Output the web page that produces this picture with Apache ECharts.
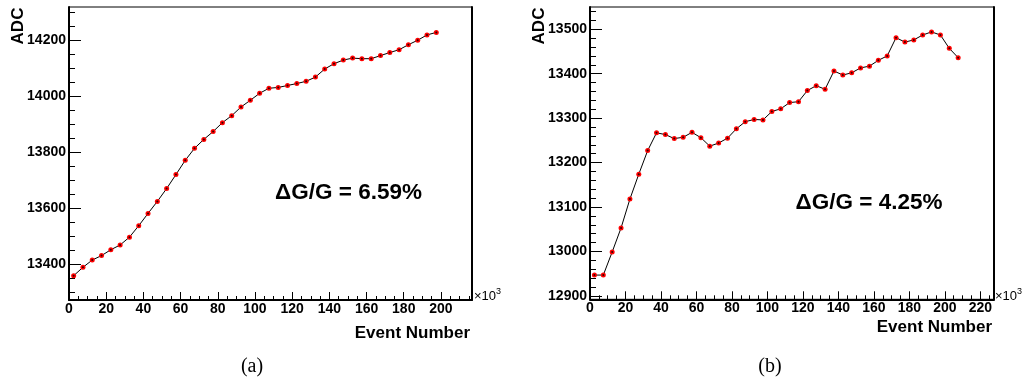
<!DOCTYPE html>
<html>
<head>
<meta charset="utf-8">
<script src="https://cdn.jsdelivr.net/npm/echarts@6/dist/echarts.min.js"></script>
<style>
html,body{margin:0;padding:0;background:#fff;}
#c{width:1024px;height:385px;}
</style>
</head>
<body>
<div id="c"></div>
<script>
// ---- Data (panel a) ----
const eventsA = [2.5,7.5,12.5,17.5,22.5,27.5,32.5,37.5,42.5,47.5,52.5,57.5,62.5,67.5,72.5,77.5,82.5,87.5,92.5,97.5,
  102.5,107.5,112.5,117.5,122.5,127.5,132.5,137.5,142.5,147.5,152.5,157.5,162.5,167.5,172.5,177.5,182.5,187.5,192.5,197.5];
const adcA = [13358,13388,13414,13430,13451,13468,13496,13537,13581,13624,13670,13720,13771,13814,13846,13874,13906,13931,13962,13986,
  14011,14029,14032,14039,14046,14054,14069,14098,14117,14130,14137,14135,14135,14146,14157,14167,14185,14201,14220,14229];
// ---- Data (panel b) ----
const eventsB = [2.5,7.5,12.5,17.5,22.5,27.5,32.5,37.5,42.5,47.5,52.5,57.5,62.5,67.5,72.5,77.5,82.5,87.5,92.5,97.5,
  102.5,107.5,112.5,117.5,122.5,127.5,132.5,137.5,142.5,147.5,152.5,157.5,162.5,167.5,172.5,177.5,182.5,187.5,192.5,197.5,202.5,207.5];
const adcB = [12947,12947,12999,13053,13118,13174,13227,13267,13263,13254,13257,13268,13256,13237,13244,13255,13276,13292,13297,13296,
  13315,13321,13335,13337,13362,13373,13365,13406,13397,13402,13413,13417,13430,13440,13481,13471,13476,13487,13494,13487,13457,13436];
// ---- Tick labels ----
const xTicksA = [0,20,40,60,80,100,120,140,160,180,200];
const yTicksA = [13400,13600,13800,14000,14200];
const xTicksB = [0,20,40,60,80,100,120,140,160,180,200,220];
const yTicksB = [12900,13000,13100,13200,13300,13400,13500];
const labelA = '\u0394G/G = 6.59%';
const labelB = '\u0394G/G = 4.25%';

function minorTicks(lo, hi, step){ const r=[]; for(let v=lo; v<=hi+1e-9; v+=step) r.push(+v.toFixed(6)); return r; }

const FONT = 'Liberation Sans, Arial, sans-serif';
const ranges = {
  a: {xmin:0, xmax:216.7, ymin:13271, ymax:14320},
  b: {xmin:0, xmax:227.7, ymin:12892.5, ymax:13550}
};

function axesFor(gi, r, xT, yT, xMinorStep, yMinorStep){
  const lbl = {color:'#000', fontFamily:FONT, fontWeight:'bold', fontSize:14, formatter: v => String(v)};
  const xs = [
    {gridIndex:gi, type:'value', position:'bottom', min:r.xmin, max:r.xmax,
     axisLine:{show:true, lineStyle:{color:'#000', width:2}},
     axisTick:{show:true, inside:true, length:8, customValues:xT, lineStyle:{color:'#000', width:1}},
     axisLabel:{show:true, customValues:xT, margin:2, ...lbl},
     splitLine:{show:false}},
    {gridIndex:gi, type:'value', position:'bottom', min:r.xmin, max:r.xmax,
     axisLine:{show:false},
     axisTick:{show:true, inside:true, length:4, customValues:minorTicks(r.xmin, r.xmax, xMinorStep), lineStyle:{color:'#000', width:1}},
     axisLabel:{show:false}, splitLine:{show:false}}
  ];
  const ys = [
    {gridIndex:gi, type:'value', position:'left', min:r.ymin, max:r.ymax,
     axisLine:{show:true, lineStyle:{color:'#000', width:2}},
     axisTick:{show:true, inside:true, length:12, customValues:yT, lineStyle:{color:'#000', width:1}},
     axisLabel:{show:true, customValues:yT, margin:3, ...lbl},
     splitLine:{show:false}},
    {gridIndex:gi, type:'value', position:'left', min:r.ymin, max:r.ymax,
     axisLine:{show:false},
     axisTick:{show:true, inside:true, length:6,
       customValues:minorTicks(Math.ceil(r.ymin/yMinorStep)*yMinorStep, r.ymax, yMinorStep), lineStyle:{color:'#000', width:1}},
     axisLabel:{show:false}, splitLine:{show:false}},
    {gridIndex:gi, type:'value', position:'right', min:r.ymin, max:r.ymax,
     axisLine:{show:true, lineStyle:{color:'#000', width:2}},
     axisTick:{show:false}, axisLabel:{show:false}, splitLine:{show:false}}
  ];
  return {xs, ys};
}

const A = axesFor(0, ranges.a, xTicksA, yTicksA, 5, 50);
const B = axesFor(1, ranges.b, xTicksB, yTicksB, 5, 20);

function seriesFor(xi, yi, xs, ys){
  const d = xs.map((x,i)=>[x, ys[i]]);
  return [
    {type:'line', xAxisIndex:xi, yAxisIndex:yi, data:d, symbol:'circle', symbolSize:5,
     lineStyle:{color:'#000', width:1}, itemStyle:{color:'#ff0000', borderWidth:0}, animation:false, z:2},
    {type:'scatter', xAxisIndex:xi, yAxisIndex:yi, data:d, symbol:'circle', symbolSize:2,
     itemStyle:{color:'#000'}, animation:false, z:3}
  ];
}

const chart = echarts.init(document.getElementById('c'), null, {renderer:'canvas'});
chart.setOption({
  backgroundColor:'#fff',
  animation:false,
  grid:[
    {left:69, top:7, width:403, height:293, show:true, borderColor:'#000', borderWidth:1, backgroundColor:'transparent'},
    {left:590, top:7, width:404, height:292.3, show:true, borderColor:'#000', borderWidth:1, backgroundColor:'transparent'}
  ],
  xAxis:[...A.xs, ...B.xs],
  yAxis:[...A.ys, ...B.ys],
  series:[...seriesFor(0,0,eventsA,adcA), ...seriesFor(2,3,eventsB,adcB)],
  graphic:[
    {type:'text', x:18, y:26, rotation:Math.PI/2, style:{text:'ADC', font:'bold 17px '+FONT, fill:'#000', align:'center', verticalAlign:'middle'}},
    {type:'text', x:539, y:26, rotation:Math.PI/2, style:{text:'ADC', font:'bold 17px '+FONT, fill:'#000', align:'center', verticalAlign:'middle'}},
    {type:'text', x:470, y:333, style:{text:'Event Number', font:'bold 17px '+FONT, fill:'#000', align:'right', verticalAlign:'middle'}},
    {type:'text', x:992, y:327, style:{text:'Event Number', font:'bold 17px '+FONT, fill:'#000', align:'right', verticalAlign:'middle'}},
    {type:'text', x:474, y:296, style:{text:'{a|\u00d710}{s|3}', fill:'#000', align:'left', verticalAlign:'middle',
      rich:{a:{font:'13px '+FONT, fill:'#000'}, s:{font:'9px '+FONT, fill:'#000', verticalAlign:'top', padding:[0,0,8,0]}}}},
    {type:'text', x:995, y:296, style:{text:'{a|\u00d710}{s|3}', fill:'#000', align:'left', verticalAlign:'middle',
      rich:{a:{font:'13px '+FONT, fill:'#000'}, s:{font:'9px '+FONT, fill:'#000', verticalAlign:'top', padding:[0,0,8,0]}}}},
    {type:'text', x:348.5, y:193, style:{text:labelA, font:'bold 22.5px '+FONT, fill:'#000', align:'center', verticalAlign:'middle'}},
    {type:'text', x:869, y:203, style:{text:labelB, font:'bold 22.5px '+FONT, fill:'#000', align:'center', verticalAlign:'middle'}},
    {type:'text', x:252, y:367, style:{text:'(a)', font:'20px Liberation Serif, Times New Roman, serif', fill:'#000', align:'center', verticalAlign:'middle'}},
    {type:'text', x:770, y:367, style:{text:'(b)', font:'20px Liberation Serif, Times New Roman, serif', fill:'#000', align:'center', verticalAlign:'middle'}}
  ]
});
</script>
</body>
</html>
